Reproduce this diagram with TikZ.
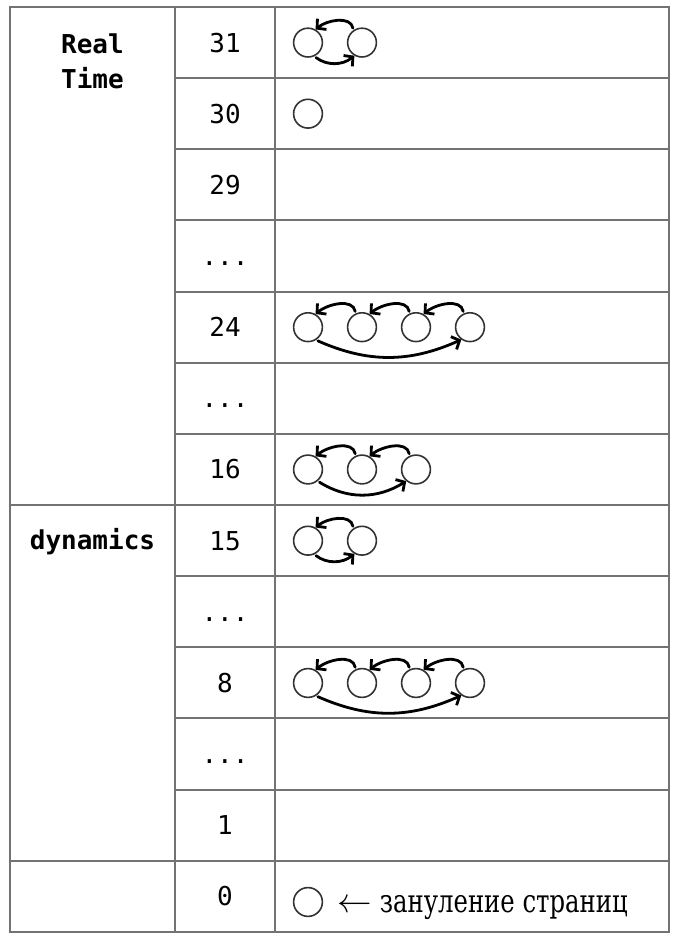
\documentclass[tikz,border=0pt]{standalone}
\usepackage{fontspec}
\setmonofont{DejaVu Sans Mono}
\newfontfamily\rufont[FakeStretch=0.76]{DejaVu Serif}
\usetikzlibrary{positioning,arrows.meta}

\def \colA {10}
\def \colB {175}
\def \colC {275}
\def \colD {669}
\def \rowh {71.15}
\def \gridtop {935}
\def \pagegap {11.8pt}

\tikzset{
  grid line/.style={draw=black!55, line width=1pt},
  page/.style={circle, draw=black!80, line width=0.8pt, minimum size=14.4pt, inner sep=0pt},
  link/.style={-{Straight Barb[length=3.2pt,width=7pt]}, line width=1.4pt, line cap=round, shorten <=1pt},
  back/.style={out=100, in=40},
  num/.style={font=\ttfamily\fontsize{13}{15}\selectfont, text height=9.5pt, text depth=0pt, inner sep=0pt},
  group/.style={font=\ttfamily\bfseries\fontsize{13}{17.5}\selectfont, align=center, inner sep=0pt},
  ru/.style={font=\rufont\fontsize{16}{19}\selectfont, inner sep=0pt}
}

\begin{document}
\begin{tikzpicture}[x=0.5pt, y=0.5pt]
\useasboundingbox (0,0) rectangle (677,942);

% table
\draw[grid line] (\colA,10) rectangle (\colD,\gridtop);
\draw[grid line] (\colB,10) -- (\colB,\gridtop);
\draw[grid line] (\colC,10) -- (\colC,\gridtop);
\foreach \k in {1,...,12}
  \draw[grid line] (\colB,\gridtop-\k*\rowh) -- (\colD,\gridtop-\k*\rowh);
\draw[grid line] (\colA,\gridtop-7*\rowh) -- (\colB,\gridtop-7*\rowh);
\draw[grid line] (\colA,\gridtop-12*\rowh) -- (\colB,\gridtop-12*\rowh);

% groups
\node[group] (realtime) at (92.5,881) {Real\\Time};
\node[group] (dynamics) at (92.5,400) {dynamics};

% priorities
\node[num] (n31) at (225,899.4) {31};
\node[num] (n30) at (225,828.3) {30};
\node[num] (n29) at (225,757.1) {29};
\node[num] (gapA) at (225,686.0) {...};
\node[num] (n24) at (225,614.8) {24};
\node[num] (gapB) at (225,543.7) {...};
\node[num] (n16) at (225,472.5) {16};
\node[num] (n15) at (225,401.3) {15};
\node[num] (gapC) at (225,330.2) {...};
\node[num] (n8) at (225,259.0) {8};
\node[num] (gapD) at (225,187.9) {...};
\node[num] (n1) at (225,116.7) {1};
\node[num] (n0) at (225,45.6) {0};

% row 31
\node[page] (p31a) at (308,899.4) {};
\node[page, right=\pagegap of p31a] (p31b) {};
\draw[link] (p31b.125) to[back] (p31a.60);
\draw[link] (p31a.-65) to[bend right=38] (p31b.-120);

% row 30
\node[page] (p30a) at (308,828.3) {};

% row 24
\node[page] (p24a) at (308,614.8) {};
\node[page, right=\pagegap of p24a] (p24b) {};
\node[page, right=\pagegap of p24b] (p24c) {};
\node[page, right=\pagegap of p24c] (p24d) {};
\draw[link] (p24b.115) to[back] (p24a.60);
\draw[link] (p24c.115) to[back] (p24b.60);
\draw[link] (p24d.115) to[back] (p24c.60);
\draw[link] (p24a.-58) to[bend right=24] (p24d.-125);

% row 16
\node[page] (p16a) at (308,472.5) {};
\node[page, right=\pagegap of p16a] (p16b) {};
\node[page, right=\pagegap of p16b] (p16c) {};
\draw[link] (p16b.115) to[back] (p16a.60);
\draw[link] (p16c.115) to[back] (p16b.60);
\draw[link] (p16a.-50) to[bend right=32] (p16c.-130);

% row 15
\node[page] (p15a) at (308,401.3) {};
\node[page, right=\pagegap of p15a] (p15b) {};
\draw[link] (p15b.125) to[back] (p15a.60);
\draw[link] (p15a.-65) to[bend right=38] (p15b.-120);

% row 8
\node[page] (p8a) at (308,259.0) {};
\node[page, right=\pagegap of p8a] (p8b) {};
\node[page, right=\pagegap of p8b] (p8c) {};
\node[page, right=\pagegap of p8c] (p8d) {};
\draw[link] (p8b.115) to[back] (p8a.60);
\draw[link] (p8c.115) to[back] (p8b.60);
\draw[link] (p8d.115) to[back] (p8c.60);
\draw[link] (p8a.-58) to[bend right=24] (p8d.-125);

% row 0
\node[page] (p0a) at (308,40) {};
\node[ru, anchor=base west] (zeroing) at ([xshift=7pt, yshift=-5.5pt]p0a.east) {$\leftarrow$ зануление страниц};
\end{tikzpicture}
\end{document}
